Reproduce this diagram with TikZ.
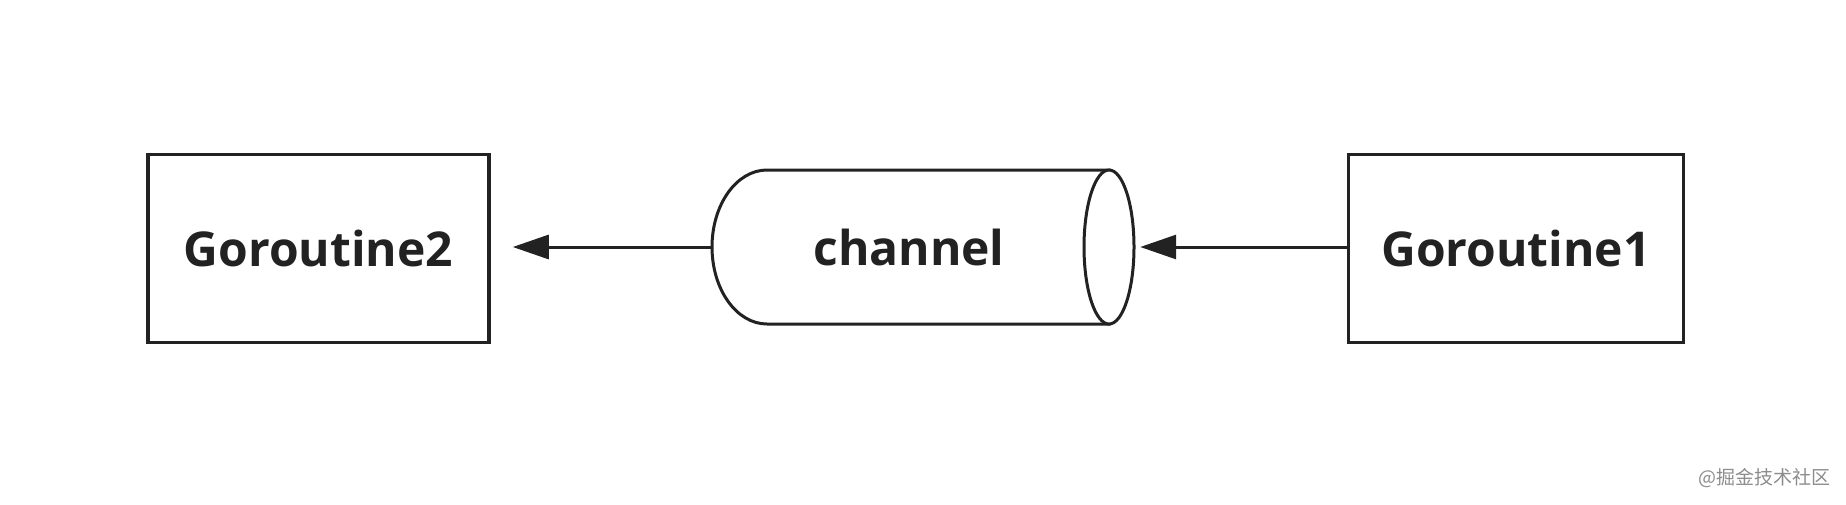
\documentclass[tikz,border=0pt]{standalone}
\usepackage{fontspec}
\setmainfont{Open Sans}
\newfontfamily\cjk{Noto Sans CJK SC}
\usetikzlibrary{arrows.meta}
\definecolor{ink}{HTML}{222222}
\tikzset{
  lbl/.style={font=\fontsize{48}{56}\selectfont\bfseries, text=ink},
  gbox/.style={lbl, draw=ink, line width=3.5pt, fill=white, minimum height=188pt, inner sep=0pt},
  conn/.style={draw=ink, line width=3pt, -{Triangle[length=36pt,width=24pt]}},
  cyl/.style={draw=ink, line width=3pt, fill=white}
}
\begin{document}
\begin{tikzpicture}[x=1pt,y=-1pt]
\useasboundingbox (0,0) rectangle (1846,504);
\node[gbox, minimum width=341pt] (g2) at (318.5,248.5) {Goroutine2};
\node[gbox, minimum width=335pt] (g1) at (1516,248.5) {Goroutine1};
% cylinder
\draw[cyl] (767,170) -- (1109,170) -- (1109,324) -- (767,324) arc[start angle=90, end angle=270, x radius=55pt, y radius=-77pt] -- cycle;
\draw[cyl] (1109,247) ellipse[x radius=25pt, y radius=77pt];
\node[lbl, minimum width=422pt, minimum height=154pt, inner sep=0pt] (ch) at (923,247) {\hspace*{-28pt}channel};
\draw[conn, shorten >=22pt] (ch.west) -- (ch.west -| g2.east);
\draw[conn, shorten >=6pt] (g1.west |- ch.east) -- (ch.east);
\node[anchor=east, text=black!45, font=\cjk\fontsize{19}{22}\selectfont, inner sep=0pt] (wm) at (1831,478) {@掘金技术社区};
\end{tikzpicture}
\end{document}
